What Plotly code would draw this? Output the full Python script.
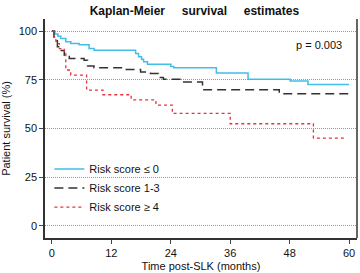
import plotly.graph_objects as go

# Kaplan-Meier curves (months, survival %)
low_t = [0, 0.6, 1.2, 1.8, 2.8, 3.8, 5.5, 7.5, 8.5, 16.9, 17.5, 18.1, 18.5, 19.3, 24.0, 24.6, 33.2, 39.6, 48.1, 51.7, 60.0]
low_s = [100, 98.5, 97.3, 96.2, 94.5, 93.6, 93.0, 91.0, 90.2, 88.5, 86.8, 85.5, 84.3, 83.0, 81.8, 81.2, 78.5, 75.3, 74.3, 72.6, 72.6]

mid_t = [0, 0.4, 0.7, 1.1, 1.6, 2.5, 3.5, 6.5, 7.2, 8.5, 14.5, 17.9, 19.9, 21.5, 22.5, 26.3, 30.4, 45.9, 60.0]
mid_s = [100, 97, 95, 92, 90, 87.6, 85.9, 85.0, 82.0, 81.1, 80.3, 79.0, 78.2, 76.2, 75.2, 73.8, 69.8, 67.8, 67.8]

high_t = [0, 0.4, 0.8, 1.5, 2.5, 2.8, 3.8, 7.0, 10.3, 16.0, 21.0, 24.3, 36.0, 52.8, 59.5]
high_s = [100, 97, 93.6, 91, 88.5, 80, 77.4, 69.7, 67.3, 64.7, 62.0, 57.7, 52.4, 45.0, 45.0]

names = ["Risk score \u2264 0", "Risk score 1-3", "Risk score \u2265 4"]
x_ticks = [0, 12, 24, 36, 48, 60]
y_ticks = [0, 25, 50, 75, 100]

FONT = "Liberation Sans Narrow, Liberation Sans, Arial, sans-serif"

fig = go.Figure()
fig.add_trace(go.Scatter(x=low_t, y=low_s, mode="lines", line_shape="hv", name=names[0],
                         line=dict(color="#42bde8", width=1.5)))
fig.add_trace(go.Scatter(x=mid_t, y=mid_s, mode="lines", line_shape="hv", name=names[1],
                         line=dict(color="#333333", width=1.5, dash="9px,5px")))
fig.add_trace(go.Scatter(x=high_t, y=high_s, mode="lines", line_shape="hv", name=names[2],
                         line=dict(color="#e8303c", width=1.3, dash="dot")))

fig.update_layout(
    width=360, height=273,
    margin=dict(l=45, r=3, t=19, b=35),
    paper_bgcolor="white", plot_bgcolor="white",
    font=dict(family=FONT, size=11, color="#111"),
    title=dict(text="<b>Kaplan-Meier\u00a0\u00a0\u00a0\u00a0 survival\u00a0\u00a0\u00a0\u00a0 estimates</b>",
               x=0.54, xanchor="center", y=0.962, yanchor="middle",
               font=dict(size=12, family=FONT)),
    showlegend=True,
    legend=dict(x=0.014, y=0.075, xanchor="left", yanchor="bottom", bgcolor="rgba(0,0,0,0)",
                font=dict(size=11), itemwidth=30, tracegroupgap=2),
)
fig.update_xaxes(range=[-1.4, 61.6], tickvals=x_ticks, ticks="outside", ticklen=4,
                 showline=True, linecolor="#333", linewidth=1.5, showgrid=False, zeroline=False,
                 title=dict(text="Time post-SLK (months)", standoff=4, font=dict(size=11)),
                 tickfont=dict(size=11))
fig.update_yaxes(range=[-6.3, 106.2], tickvals=y_ticks, ticks="outside", ticklen=4,
                 showline=True, linecolor="#333", linewidth=1.5, showgrid=True,
                 gridcolor="#999999", griddash="1px,1px", gridwidth=1, zeroline=False,
                 title=dict(text="Patient survival (%)", standoff=6, font=dict(size=11)),
                 tickfont=dict(size=11))
fig.add_shape(type="line", xref="paper", yref="paper", x0=1, x1=1, y0=0, y1=1,
              line=dict(color="#333", width=1.5))
fig.add_annotation(x=54, y=92.8, text="p = 0.003", showarrow=False,
                   font=dict(size=11, family=FONT))

fig.write_html("out.html")
